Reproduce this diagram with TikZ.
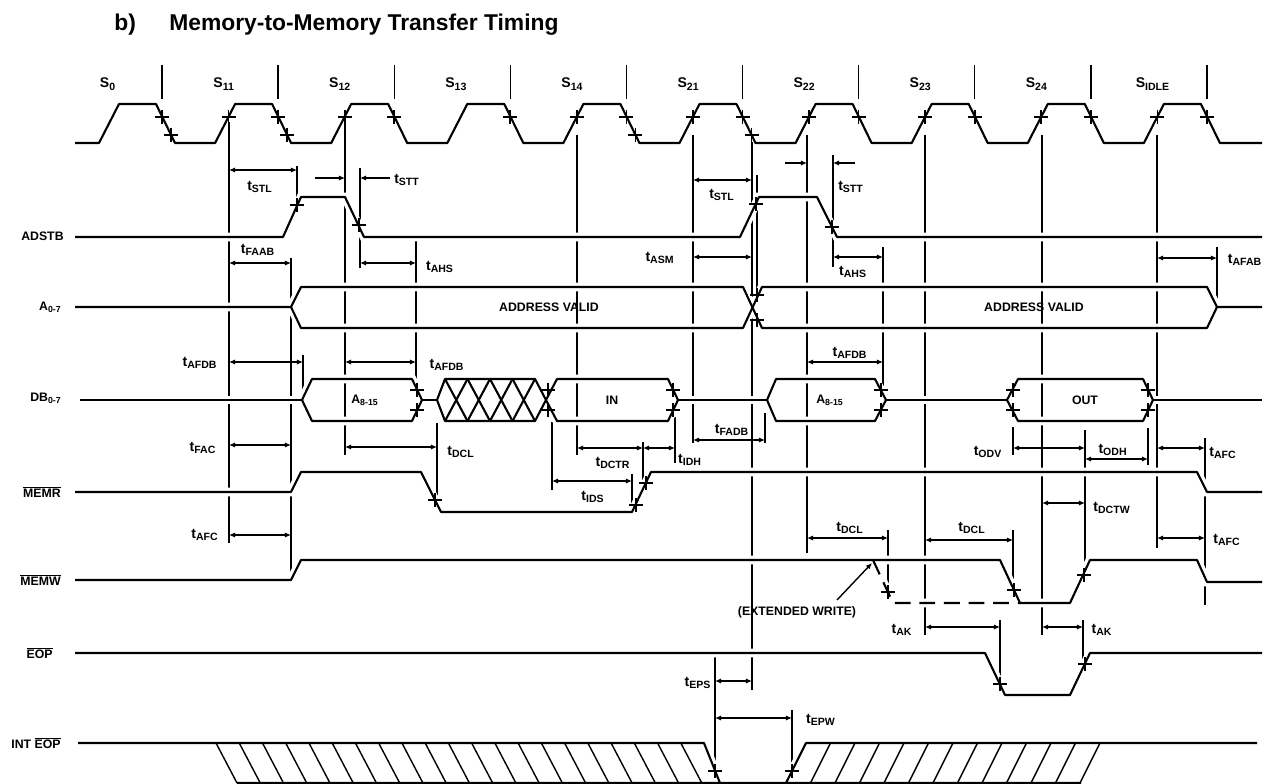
\documentclass[tikz,border=0pt]{standalone}
\usepackage{fontspec}
\setmainfont{Liberation Sans}
\usetikzlibrary{arrows.meta}

\tikzset{
  sig/.style={line width=1.2pt, line join=round},
  gap/.style={draw=white, line width=5pt},
  refl/.style={line width=0.8pt},
  hatch/.style={line width=0.8pt},
  dim/.style={line width=0.8pt, {Latex[length=3.5pt,width=3pt]}-{Latex[length=3.5pt,width=3pt]}},
  half/.style={line width=0.8pt, -{Latex[length=3.5pt,width=3pt]}},
  siglbl/.style={font=\fontsize{7}{8}\selectfont\bfseries, anchor=east, inner sep=0pt},
  tlbl/.style={font=\fontsize{8}{9}\selectfont\bfseries, inner sep=0pt},
  stlbl/.style={font=\fontsize{8}{9}\selectfont\bfseries, inner sep=0pt},
  buslbl/.style={font=\fontsize{7}{8}\selectfont\bfseries, inner sep=0pt},
  crs/.pic={\draw[line width=1pt] (-7,0) -- (7,0) (0,-7) -- (0,7);}
}
\newcommand\tlab[1]{t\textsubscript{#1}}

% signal traces (pixel units, y downwards)
\newcommand\pAdstb{(75,237) -- (283,237) -- (301,197) -- (345,197) -- (364,237) -- (740,237) -- (759,197) -- (817,197) -- (837,237) -- (1262,237)}
\newcommand\pAtop{(75,307) -- (291,307) -- (301,287) -- (743,287) -- (762,328) -- (1207,328) -- (1217,307) -- (1262,307)}
\newcommand\pAbot{(291,307) -- (301,328) -- (743,328) -- (762,287) -- (1207,287) -- (1217,307)}
\newcommand\pDbFloat{(80,400) -- (302,400) (422,400) -- (437,400) (678,400) -- (767,400) (886,400) -- (1007,400) (1153,400) -- (1262,400)}
\newcommand\pDbA{(302,400) -- (312,379) -- (412,379) -- (422,400) -- (412,421) -- (312,421) -- cycle}
\newcommand\pDbX{(437,400) -- (445,379) -- (535,379) -- (546,400) -- (535,421) -- (445,421) -- cycle}
\newcommand\pDbIn{(546,400) -- (557,379) -- (668,379) -- (678,400) -- (668,421) -- (557,421) -- cycle}
\newcommand\pDbB{(767,400) -- (776,379) -- (875,379) -- (886,400) -- (875,421) -- (776,421) -- cycle}
\newcommand\pDbOut{(1007,400) -- (1018,379) -- (1143,379) -- (1153,400) -- (1143,421) -- (1018,421) -- cycle}
\newcommand\pMemr{(75,492) -- (291,492) -- (301,472) -- (421,472) -- (441,512) -- (632,512) -- (651,472) -- (1197,472) -- (1207,492) -- (1262,492)}
\newcommand\pMemw{(75,580) -- (291,580) -- (301,560) -- (1000,560) -- (1020,603) -- (1070,603) -- (1090,560) -- (1197,560) -- (1207,582) -- (1262,582)}
\newcommand\pMemwExt{(873,560) -- (893,603) -- (1020,603)}
\newcommand\pEop{(75,653) -- (985,653) -- (1005,695) -- (1070,695) -- (1090,653) -- (1262,653)}
\newcommand\pInt{(78,743) -- (704,743) -- (720,783) -- (786,783) -- (806,743) -- (1257,743) (237,783) -- (1081,783)}

\begin{document}
\begin{tikzpicture}[x=0.02cm, y=-0.02cm]
  \useasboundingbox (0,0) rectangle (1265,784);

  % Title
  \node[font=\fontsize{13}{15}\selectfont\bfseries, anchor=west, inner sep=0pt] (ttlb) at (114,25) {b)};
  \node[font=\fontsize{13}{15}\selectfont\bfseries, anchor=west, inner sep=0pt] (ttl) at (169,25) {Memory-to-Memory Transfer Timing};

  % States and clock
  \foreach \d/\s [count=\i] in {162/0, 278.1/11, 394.2/12, 510.3/13, 626.4/14, 742.5/21, 858.6/22, 974.7/23, 1090.8/24, 1206.9/IDLE} {
    \draw[refl] (\d,65) -- (\d,99);
    \node[stlbl] (st\i) at (\d-54,84) {S\textsubscript{\s}};
  }
  \draw[sig] (75,143) \foreach \d in {162,278.1,394.2,510.3,626.4,742.5,858.6,974.7,1090.8,1206.9} { -- (\d-63,143) -- (\d-43,104) -- (\d-6,104) -- (\d+13,143) } -- (1262,143);
  \foreach \d in {278.1,394.2,626.4,742.5,858.6,974.7,1090.8,1206.9} \pic at (\d-49.5,117) {crs};
  \foreach \d in {162,278.1,394.2,510.3,626.4,742.5,858.6,974.7,1090.8,1206.9} \pic at (\d,117) {crs};
  \foreach \d in {162,278.1,626.4,742.5} \pic at (\d+9,135) {crs};

  % Reference lines
  \foreach \x/\ya/\yb in {229/122/543, 291/258/572, 297/166/205, 303/355/400, 345/123/455, 360/168/268,
      416/240/390, 437/423/498, 552/422/490, 577/135/455, 632/474/505, 643/442/485, 675/417/463,
      693/135/443, 752/142/690, 757/175/300, 765/413/443, 807/135/553, 833/155/267, 883/247/387,
      888/530/597, 925/135/635, 1000/620/684, 1013/427/455, 1013/530/592, 1042/135/635, 1083/620/664,
      1085/430/575, 1148/428/465, 1157/135/548, 1205/438/605, 1217/247/307, 715/657/771, 792/710/771}
    \draw[refl] (\x,\ya) -- (\x,\yb);

  % Gaps where the reference lines pass the traces
  \draw[gap] \pAdstb;
  \draw[gap] \pAtop;
  \draw[gap] \pAbot;
  \draw[gap] \pDbFloat;
  \draw[gap] \pDbA;
  \draw[gap] \pDbX;
  \draw[gap] \pDbIn;
  \draw[gap] \pDbB;
  \draw[gap] \pDbOut;
  \draw[gap] \pMemr;
  \draw[gap] \pMemw;
  \draw[gap] \pMemwExt;
  \draw[gap] \pEop;
  \draw[gap] \pInt;

  % Traces
  \draw[sig] \pAdstb;
  \draw[sig] \pAtop;
  \draw[sig] \pAbot;
  \draw[sig] \pDbFloat;
  \draw[sig] \pDbA;
  \draw[sig] \pDbX;
  \draw[sig] \pDbIn;
  \draw[sig] \pDbB;
  \draw[sig] \pDbOut;
  \draw[sig] \pMemr;
  \draw[sig] \pMemw;
  \draw[sig, dash pattern=on 9pt off 5pt] \pMemwExt;
  \draw[sig] \pEop;
  \draw[sig] \pInt;

  % Undefined data
  \foreach \i in {0,...,3}
    \draw[sig] (445+22.5*\i,379) -- (467.5+22.5*\i,421) (445+22.5*\i,421) -- (467.5+22.5*\i,379);
  \foreach \i in {0,...,20} \draw[hatch] (216+23.24*\i,743) -- (237+23.24*\i,783);
  \foreach \i in {1,...,12} \draw[hatch] (806+24.5*\i,743) -- (786+24.5*\i,783);

  % Crossing marks
  \foreach \x/\y in {297/205, 359/225, 756/204, 832/227, 757/295, 757/320,
      417/390, 417/410, 548/390, 548/410, 673/390, 673/410, 881/390, 881/410,
      1013/390, 1013/410, 1148/390, 1148/410, 435/500, 636/505, 646/483,
      888/592, 1014/590, 1084/575, 1000/684, 1085/664, 715/771, 792/771}
    \pic at (\x,\y) {crs};

  % Timing intervals
  \draw[dim] (229,170) -- (297,170);
  \draw[half] (315,178) -- (345,178);
  \draw[half] (390,178) -- (360,178);
  \draw[dim] (229,263) -- (291,263);
  \draw[dim] (360,263) -- (416,263);
  \draw[dim] (693,180) -- (752,180);
  \draw[dim] (693,257) -- (752,257);
  \draw[half] (785,163) -- (807,163);
  \draw[half] (855,163) -- (833,163);
  \draw[dim] (833,257) -- (883,257);
  \draw[dim] (1157,258) -- (1217,258);
  \draw[dim] (229,362) -- (303,362);
  \draw[dim] (345,362) -- (416,362);
  \draw[dim] (807,362) -- (883,362);
  \draw[dim] (229,445) -- (291,445);
  \draw[dim] (345,447) -- (437,447);
  \draw[dim] (577,448) -- (643,448);
  \draw[dim] (643,448) -- (675,448);
  \draw[dim] (693,440) -- (765,440);
  \draw[dim] (1013,448) -- (1085,448);
  \draw[dim] (1085,459) -- (1148,459);
  \draw[dim] (1157,448) -- (1205,448);
  \draw[dim] (552,481) -- (632,481);
  \draw[dim] (1042,503) -- (1085,503);
  \draw[dim] (229,535) -- (291,535);
  \draw[dim] (807,538) -- (888,538);
  \draw[dim] (925,540) -- (1013,540);
  \draw[dim] (1157,538) -- (1205,538);
  \draw[dim] (925,627) -- (1000,627);
  \draw[dim] (1042,627) -- (1083,627);
  \draw[dim] (715,681) -- (752,681);
  \draw[dim] (715,718) -- (792,718);
  \draw[half] (837,600) -- (872,563);

  % Signal names
  \node[siglbl] (nadstb) at (64,236) {ADSTB};
  \node[siglbl] (na) at (62,307) {A\textsubscript{0-7}};
  \node[siglbl] (ndb) at (62,398) {DB\textsubscript{0-7}};
  \node[siglbl] (nmemr) at (61,492) {$\overline{\mbox{MEMR}}$};
  \node[siglbl] (nmemw) at (61,580) {$\overline{\mbox{MEMW}}$};
  \node[siglbl] (neop) at (53,653) {$\overline{\mbox{EOP}}$};
  \node[siglbl] (nint) at (61,743) {INT $\overline{\mbox{EOP}}$};

  % Bus contents
  \node[buslbl] (bav1) at (549,307) {ADDRESS VALID};
  \node[buslbl] (bav2) at (1034,307) {ADDRESS VALID};
  \node[buslbl] (ba1) at (365,400) {A\textsubscript{8-15}};
  \node[buslbl] (bin) at (612,400) {IN};
  \node[buslbl] (ba2) at (830,400) {A\textsubscript{8-15}};
  \node[buslbl] (bout) at (1085,400) {OUT};
  \node[buslbl] (bext) at (797,612) {(EXTENDED WRITE)};

  % Interval names
  \node[tlbl] (lstl1) at (260,187) {\tlab{STL}};
  \node[tlbl] (lstt1) at (407,180) {\tlab{STT}};
  \node[tlbl] (lfaab) at (258,250) {\tlab{FAAB}};
  \node[tlbl] (lahs1) at (440,267) {\tlab{AHS}};
  \node[tlbl] (lasm) at (660,258) {\tlab{ASM}};
  \node[tlbl] (lstl2) at (722,195) {\tlab{STL}};
  \node[tlbl] (lstt2) at (851,187) {\tlab{STT}};
  \node[tlbl] (lahs2) at (853,272) {\tlab{AHS}};
  \node[tlbl] (lafab) at (1245,260) {\tlab{AFAB}};
  \node[tlbl] (lafdb1) at (200,363) {\tlab{AFDB}};
  \node[tlbl] (lafdb2) at (447,365) {\tlab{AFDB}};
  \node[tlbl] (lafdb3) at (850,353) {\tlab{AFDB}};
  \node[tlbl] (lfac) at (203,448) {\tlab{FAC}};
  \node[tlbl] (ldcl1) at (461,452) {\tlab{DCL}};
  \node[tlbl] (ldctr) at (613,463) {\tlab{DCTR}};
  \node[tlbl] (lidh) at (690,460) {\tlab{IDH}};
  \node[tlbl] (lfadb) at (732,430) {\tlab{FADB}};
  \node[tlbl] (lodv) at (988,452) {\tlab{ODV}};
  \node[tlbl] (lodh) at (1113,450) {\tlab{ODH}};
  \node[tlbl] (lafc1) at (1223,453) {\tlab{AFC}};
  \node[tlbl] (lids) at (593,497) {\tlab{IDS}};
  \node[tlbl] (ldctw) at (1112,508) {\tlab{DCTW}};
  \node[tlbl] (lafc2) at (205,535) {\tlab{AFC}};
  \node[tlbl] (ldcl2) at (850,528) {\tlab{DCL}};
  \node[tlbl] (ldcl3) at (972,528) {\tlab{DCL}};
  \node[tlbl] (lafc3) at (1227,540) {\tlab{AFC}};
  \node[tlbl] (lak1) at (902,630) {\tlab{AK}};
  \node[tlbl] (lak2) at (1102,630) {\tlab{AK}};
  \node[tlbl] (leps) at (698,683) {\tlab{EPS}};
  \node[tlbl] (lepw) at (821,720) {\tlab{EPW}};
\end{tikzpicture}
\end{document}
